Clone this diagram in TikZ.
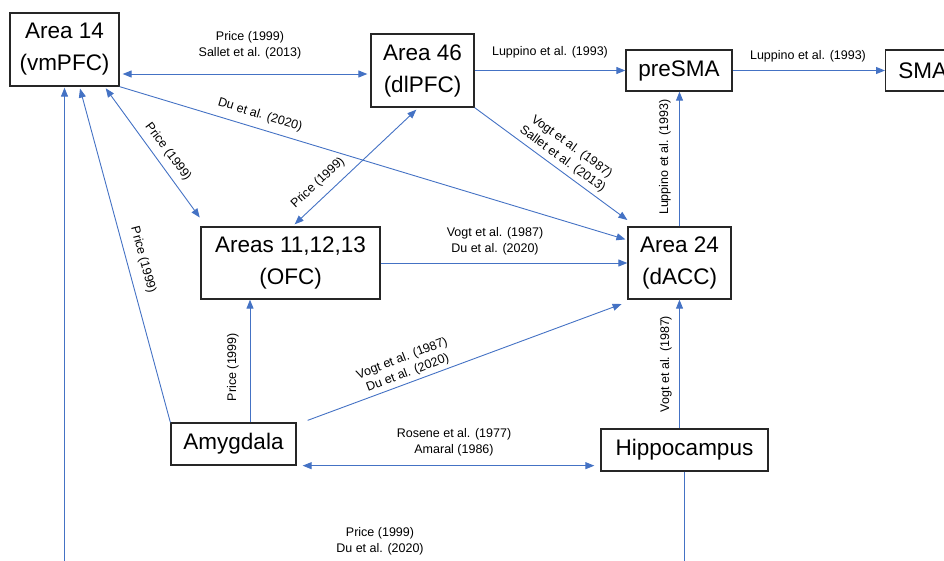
\documentclass[tikz,border=0pt]{standalone}
\usepackage{fontspec}
\setmainfont{Liberation Sans}
\usetikzlibrary{arrows.meta}
\definecolor{linkblue}{RGB}{68,114,196}
\definecolor{boxgray}{RGB}{38,38,38}
\tikzset{
  box/.style={draw=boxgray,line width=1.3pt,inner sep=0pt,align=center,font=\fontsize{22.5}{32}\selectfont},
  conn/.style={draw=linkblue,line width=0.9pt,-{Triangle[length=9pt,width=7pt]}},
  dconn/.style={conn,{Triangle[length=9pt,width=7pt]}-{Triangle[length=9pt,width=7pt]}},
  lab/.style={font=\fontsize{12.5}{15.5}\selectfont,align=center,inner sep=0pt}
}
\begin{document}
\begin{tikzpicture}[x=1pt,y=-1pt]
  \useasboundingbox (0,0) rectangle (944,560);
  \clip (0,0) rectangle (944,560);
  % regions
  \node[box,minimum width=109pt,minimum height=73pt] (area14) at (64.5,49.5) {Area 14\\(vmPFC)};
  \node[box,minimum width=103pt,minimum height=73pt] (area46) at (422.5,70.5) {Area 46\\(dlPFC)};
  \node[box,minimum width=106pt,minimum height=41pt] (presma) at (679,70.5) {preSMA};
  \node[box,minimum width=74pt,minimum height=41pt,anchor=west] (sma) at (885,70.5) {SMA};
  \node[box,minimum width=179pt,minimum height=72pt] (ofc) at (290.5,263) {Areas 11,12,13\\(OFC)};
  \node[box,minimum width=103pt,minimum height=72pt] (area24) at (679.5,263) {Area 24\\(dACC)};
  \node[box,minimum width=125pt,minimum height=42pt] (amyg) at (233.5,444) {Amygdala};
  \node[box,minimum width=167pt,minimum height=42pt] (hippo) at (684.5,450) {Hippocampus};
  % projections
  \draw[dconn,shorten <=3pt,shorten >=3pt] ([yshift=-24.5pt]area14.east) -- ([yshift=-3.5pt]area46.west);
  \draw[conn] (area46.east) -- (presma.west);
  \draw[conn] (presma.east) -- (sma.west);
  \draw[conn,shorten >=2pt] (area14.south east) -- ([yshift=23pt]area24.west);
  \draw[conn] (area46.south east) -- ([yshift=43pt]area24.west);
  \draw[conn] (area24.north) -- (area24.north |- presma.south);
  \draw[conn] (ofc.east) -- (area24.west);
  \draw[dconn,shorten <=2pt,shorten >=1pt] ([xshift=40pt]area14.south) -- ([yshift=8pt]ofc.north west);
  \draw[dconn,shorten <=3pt,shorten >=3pt] ([xshift=2pt]ofc.north) -- ([xshift=-4pt]area46.south);
  \draw[conn,shorten >=2pt] (amyg.north west) -- ([xshift=15pt]area14.south);
  \draw[conn] ([xshift=16.5pt]amyg.north) -- ([xshift=16.5pt]amyg.north |- ofc.south);
  \draw[conn,shorten >=4pt] ([xshift=11pt,yshift=2pt]amyg.north east) -- ([xshift=-2pt,yshift=-3pt]area24.south west);
  \draw[conn] (area24.south |- hippo.north) -- (area24.south);
  \draw[dconn,shorten <=6pt,shorten >=6pt] (amyg.south east) -- (amyg.south east -| hippo.west);
  \draw[conn,shorten >=1pt] (hippo.south) -- ++(0,120) -| (area14.south);
  % references
  \node[lab] (l1) at (250,45.5) {Price (1999)\\Sallet et al. (2013)};
  \node[lab] (l2) at (550,52.7) {Luppino et al. (1993)};
  \node[lab] (l3) at (808,56.7) {Luppino et al. (1993)};
  \node[lab,rotate=-17] (l4) at (260,115) {Du et al. (2020)};
  \node[lab,rotate=-36] (l5) at (567,153) {Vogt et al. (1987)\\Sallet et al. (2013)};
  \node[lab,rotate=90] (l6) at (665,157) {Luppino et al. (1993)};
  \node[lab] (l7) at (495,241.5) {Vogt et al. (1987)\\Du et al. (2020)};
  \node[lab,rotate=-53] (l8) at (168,152) {Price (1999)};
  \node[lab,rotate=43] (l9) at (318,183) {Price (1999)};
  \node[lab,rotate=-75] (l10) at (143,260) {Price (1999)};
  \node[lab,rotate=90] (l11) at (233,367) {Price (1999)};
  \node[lab,rotate=21] (l12) at (405,366) {Vogt et al. (1987)\\Du et al. (2020)};
  \node[lab,rotate=90] (l13) at (666,364) {Vogt et al. (1987)};
  \node[lab] (l14) at (454,442.5) {Rosene et al. (1977)\\Amaral (1986)};
  \node[lab] (l15) at (380,541.5) {Price (1999)\\Du et al. (2020)};
\end{tikzpicture}
\end{document}
